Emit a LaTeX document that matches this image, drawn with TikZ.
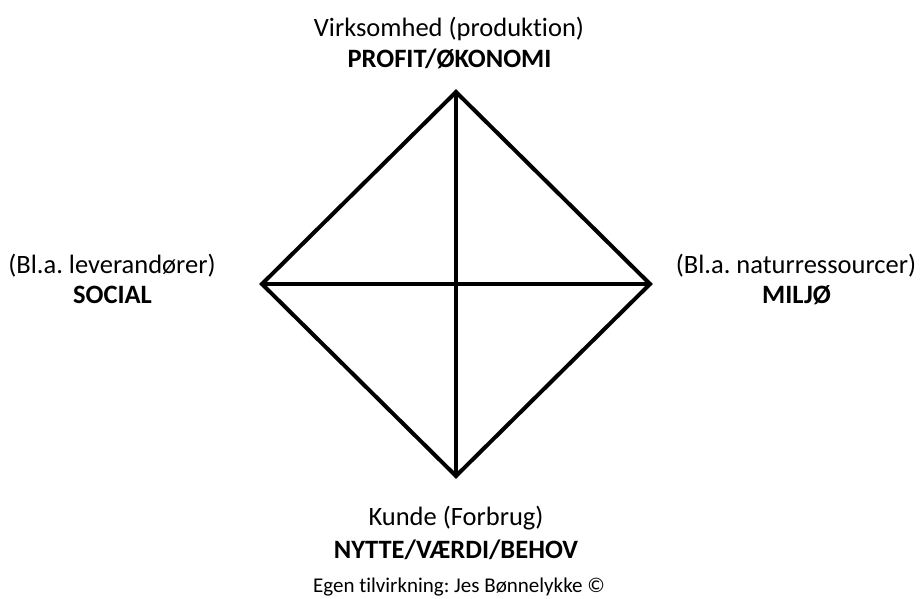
\documentclass[tikz,border=0pt]{standalone}
\usepackage{fontspec}
\setmainfont[Ligatures=NoCommon]{Carlito}
\frenchspacing
\begin{document}
\begin{tikzpicture}[x=1pt,y=-1pt,
  lbl/.style={inner sep=0pt,anchor=base,font=\fontsize{26.5}{30}\selectfont},
  bold/.style={lbl,font=\fontsize{26.5}{30}\selectfont\bfseries},
  small/.style={inner sep=0pt,anchor=base,font=\fontsize{21}{25}\selectfont},
  edge/.style={line width=4pt,line join=miter,line cap=round}]
\useasboundingbox (0,0) rectangle (920,599);
\coordinate (T) at (456,92);
\coordinate (L) at (262,284);
\coordinate (R) at (650,284);
\coordinate (B) at (456,476);
\draw[edge] (T) -- (R) -- (B) -- (L) -- cycle;
\draw[edge] (T) -- (B);
\draw[edge] (L) -- (R);
\node[lbl] (t1) at (449,37) {Virksomhed (produktion)};
\node[bold] (t2) at (449.5,68) {PROFIT/ØKONOMI};
\node[lbl] (l1) at (112,273) {(Bl.a. leverandører)};
\node[bold] (l2) at (112.5,303) {SOCIAL};
\node[lbl] (r1) at (796,273) {(Bl.a. naturressourcer)};
\node[bold] (r2) at (796.5,303) {MILJØ};
\node[lbl] (b1) at (456,525) {Kunde (Forbrug)};
\node[bold] (b2) at (456,558) {NYTTE/VÆRDI/BEHOV};
\node[small] (c) at (459,592) {Egen tilvirkning: Jes Bønnelykke ©};
\end{tikzpicture}
\end{document}
